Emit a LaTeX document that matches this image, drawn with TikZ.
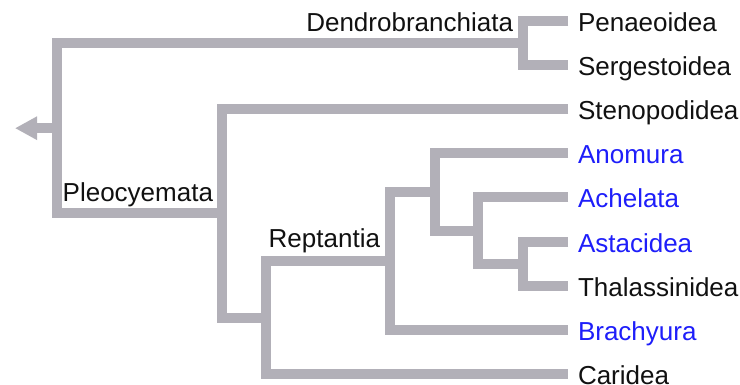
\documentclass[tikz,border=0pt]{standalone}
\usepackage{fontspec}
\setmainfont{Liberation Sans}
\usetikzlibrary{arrows.meta,calc}
\definecolor{branchgray}{RGB}{178,176,184}
\definecolor{taxblue}{RGB}{30,30,250}
\definecolor{taxblack}{RGB}{17,17,17}
\tikzset{
  br/.style={draw=branchgray,line width=10pt,line join=miter,line cap=butt},
  txt/.style={inner sep=0pt,outer sep=0pt,font=\fontsize{26}{30}\selectfont,text=taxblack},
  leaf/.style={txt,anchor=base west},
  blueleaf/.style={leaf,text=taxblue},
  clade/.style={txt,anchor=base east},
}
\begin{document}
\begin{tikzpicture}[x=1pt,y=-1pt]
\useasboundingbox[fill=white] (0,0) rectangle (740,385);
% leaf tips
\coordinate (tPen) at (568,21);
\coordinate (tSer) at (568,65.1);
\coordinate (tSte) at (568,109.25);
\coordinate (tAno) at (568,153.4);
\coordinate (tAch) at (568,197.5);
\coordinate (tAst) at (568,241.6);
\coordinate (tTha) at (568,285.75);
\coordinate (tBra) at (568,329.9);
\coordinate (tCar) at (568,374);
% branch points
\coordinate (dB) at (523,43);
\coordinate (anc4) at (523,263.7);
\coordinate (anc3) at (478,230.6);
\coordinate (anc2) at (435,192);
\coordinate (anc1) at (390,261);
\coordinate (rep) at (266,317.5);
\coordinate (pl) at (222,213.4);
\coordinate (root) at (57,128.2);
\coordinate (tip) at (15,128.2);
% branches
\draw[br] (tPen) -| (dB) |- (tSer);
\draw[br] (dB) -| (root) |- (pl);
\draw[br] (tSte) -| (pl) |- (rep);
\draw[br] (anc1) -| (rep) |- (tCar);
\draw[br] (anc2) -| (anc1) |- (tBra);
\draw[br] (tAno) -| (anc2) |- (anc3);
\draw[br] (tAch) -| (anc3) |- (anc4);
\draw[br] (tAst) -| (anc4) |- (tTha);
\draw[br,-{Triangle[length=22pt,width=22pt]},branchgray] (root) -- (tip);
% leaf labels
\node[leaf] (nPen) at ($(tPen)+(10,10.5)$) {Penaeoidea};
\node[leaf] (nSer) at ($(tSer)+(10,10.5)$) {Sergestoidea};
\node[leaf] (nSte) at ($(tSte)+(10,10.5)$) {Stenopodidea};
\node[blueleaf] (nAno) at ($(tAno)+(10,10.5)$) {Anomura};
\node[blueleaf] (nAch) at ($(tAch)+(10,10.5)$) {Achelata};
\node[blueleaf] (nAst) at ($(tAst)+(10,10.5)$) {Astacidea};
\node[leaf] (nTha) at ($(tTha)+(10,10.5)$) {Thalassinidea};
\node[blueleaf] (nBra) at ($(tBra)+(10,10.5)$) {Brachyura};
\node[leaf] (nCar) at ($(tCar)+(10,10)$) {Caridea};
% clade labels
\node[clade] (lDen) at (513,32) {Dendrobranchiata};
\node[clade] (lPle) at (213,202) {Pleocyemata};
\node[clade] (lRep) at (380,248) {Reptantia};
\end{tikzpicture}
\end{document}
